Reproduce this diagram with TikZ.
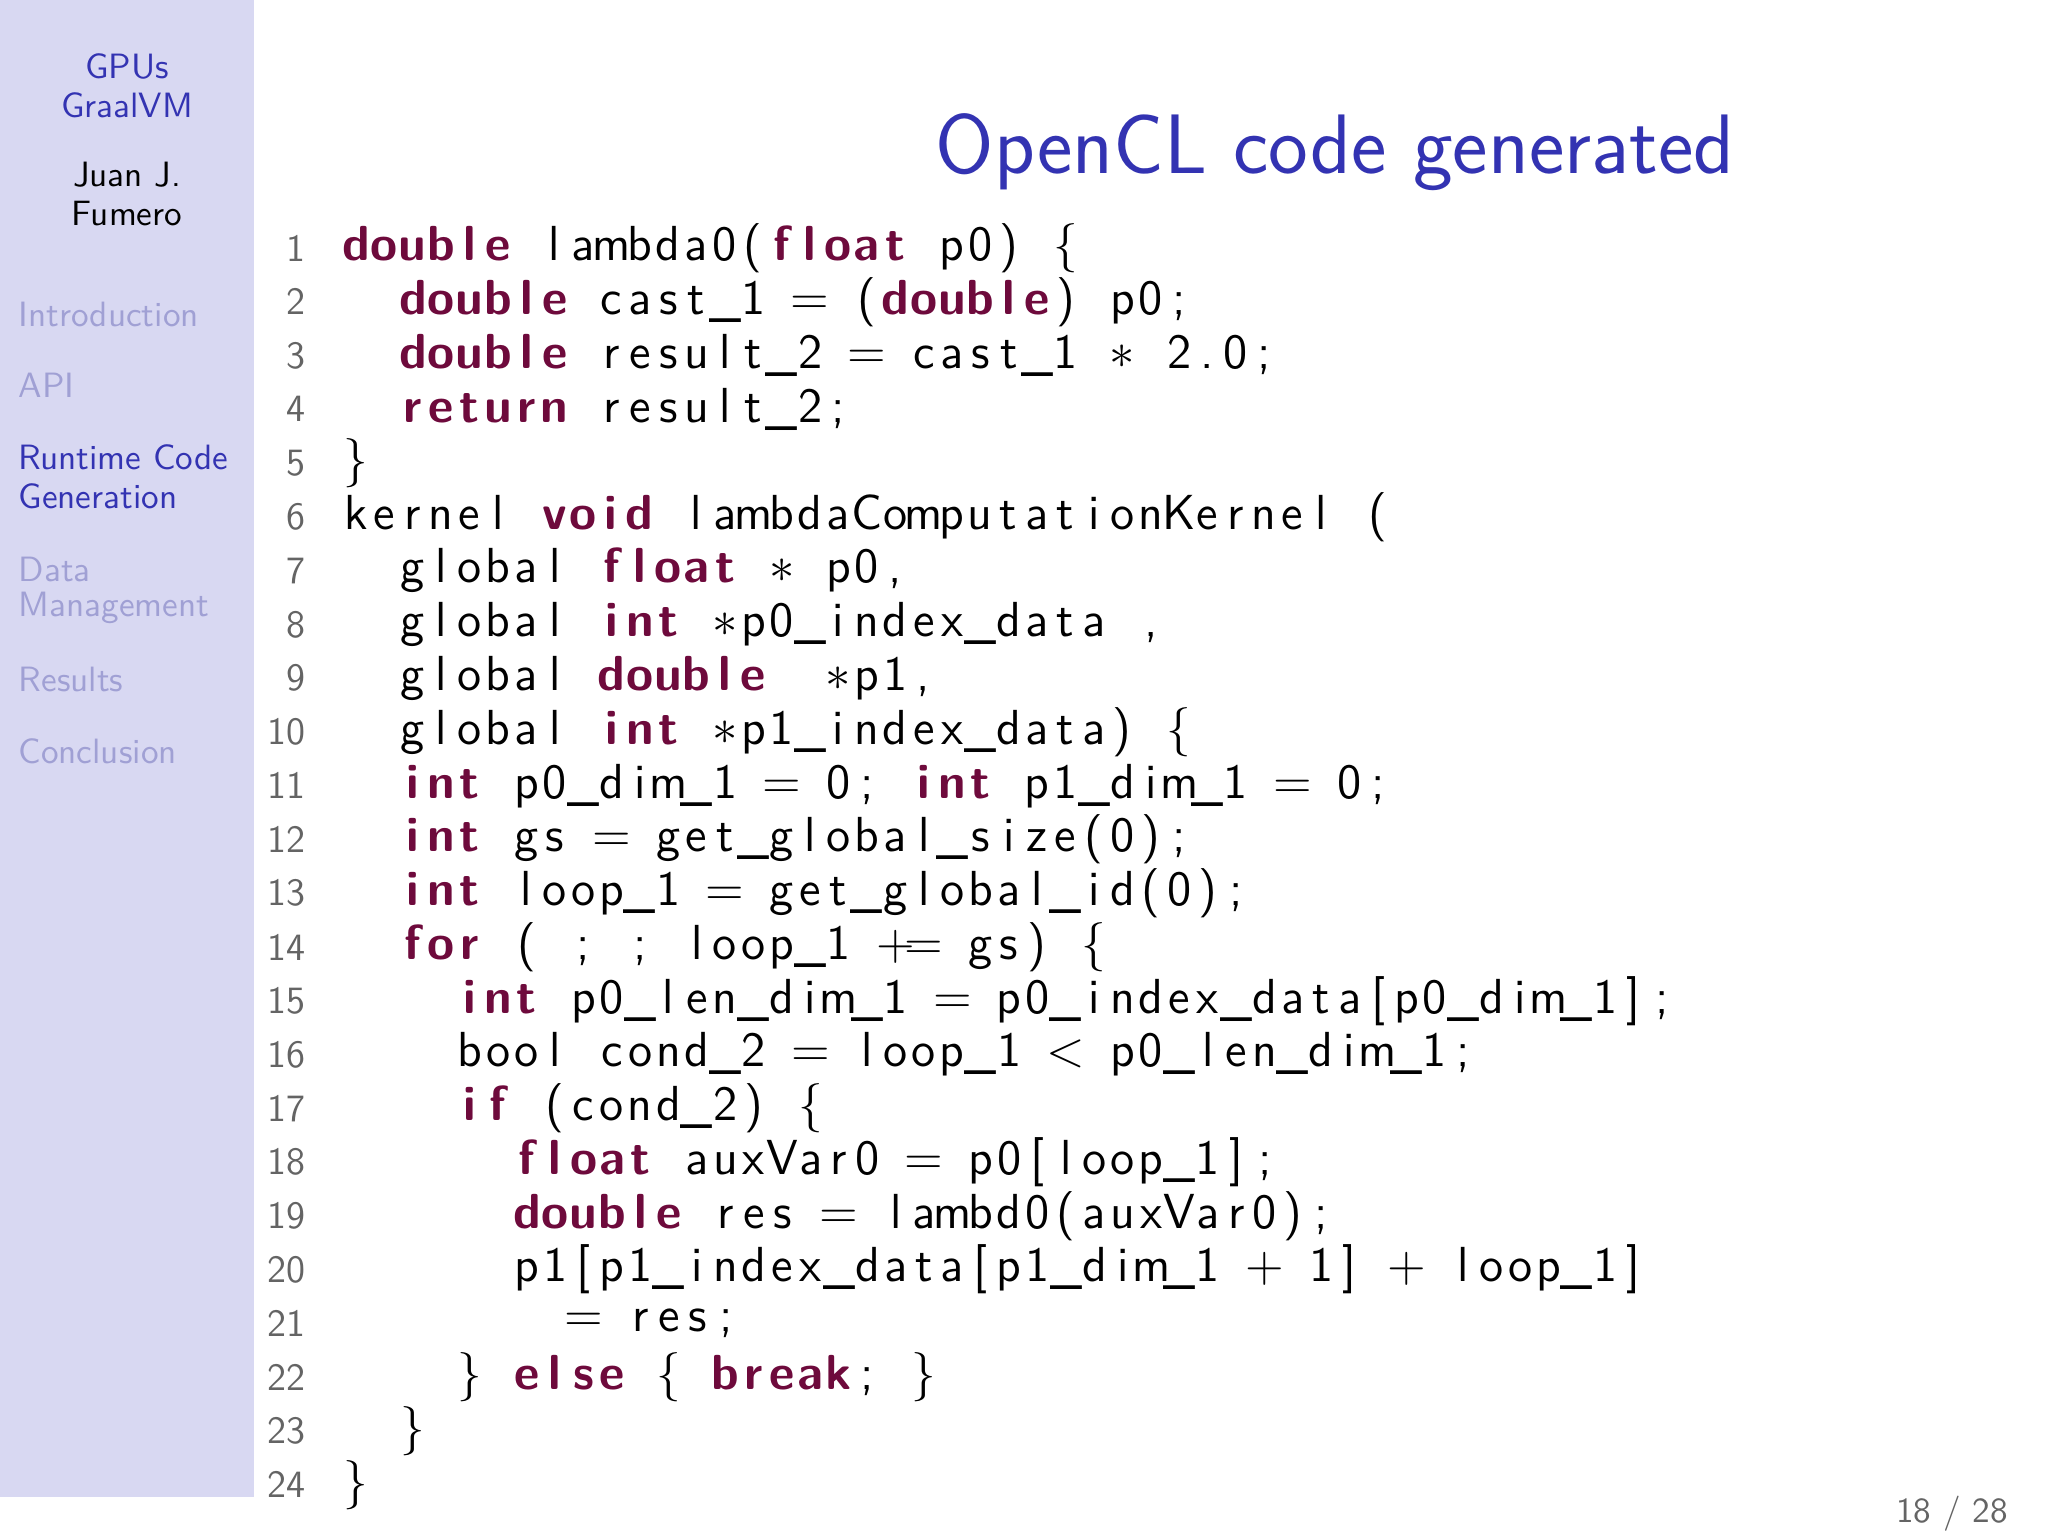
\documentclass[tikz,border=0pt]{standalone}
\usepackage{xcolor}
\definecolor{sbbg}{RGB}{216,216,242}
\definecolor{bblue}{RGB}{51,51,178}
\definecolor{navgray}{RGB}{160,160,212}
\definecolor{kwc}{RGB}{110,10,60}
\definecolor{lngray}{RGB}{100,100,100}
\newcommand\fxloop[1]{\ifx\relax#1\else\makebox[8.07pt]{#1}\expandafter\fxloop\fi}
\newcommand\fx[1]{\fxloop#1\relax}
\newcommand\kf[1]{{\bfseries\color{kwc}\fxloop#1\relax}}
\newcommand\E{{$=$}}
\newcommand\A{{$\ast$}}
\begin{document}
\begin{tikzpicture}[x=0.01cm,y=-0.01cm,
  sb/.style={font=\fontsize{10}{12}\sffamily},
  nav/.style={sb,anchor=west,text=navgray,inner sep=0},
  ln/.style={anchor=east,inner sep=0,text=lngray,font=\fontsize{11}{13}\sffamily},
  cl/.style={anchor=west,inner sep=0,font=\fontsize{14}{17}\sffamily}]
\useasboundingbox (0,0) rectangle (2048,1536);
\fill[white] (0,0) rectangle (2048,1536);
\fill[sbbg] (0,0) rectangle (254,1497);
\node[sb,text=bblue] (g1) at (127,66) {GPUs};
\node[sb,text=bblue] (g2) at (127,105) {GraalVM};
\node[sb] (a1) at (127,175) {Juan J.};
\node[sb] (a2) at (127,214) {Fumero};
\node[nav] (n1) at (18,314) {Introduction};
\node[nav] (n2) at (18,385) {API};
\node[nav,text=bblue] (n3) at (18,457) {Runtime Code};
\node[nav,text=bblue] (n4) at (18,496) {Generation};
\node[nav] (n5) at (18,569) {Data};
\node[nav] (n6) at (18,608) {Management};
\node[nav] (n7) at (18,679) {Results};
\node[nav] (n8) at (18,751) {Conclusion};
\node[text=bblue,font=\fontsize{24}{28}\sffamily] (title) at (1335,152) {OpenCL code generated};
\node[text=lngray,font=\fontsize{10}{12}\sffamily,anchor=east] (pg) at (2020,1514) {18 / 28};
\foreach \i in {1,...,24} {\node[ln] (l\i) at (306,{248+(\i-1)*53.77}) {\i};}
\def\Y#1{{248+(#1-1)*53.77}}
\node[cl] (c1) at (341,\Y1) {\kf{double}\fx{~lambda0(}\kf{float}\fx{~p0)~\{}};
\node[cl] (c2) at (398,\Y2) {\kf{double}\fx{~cast\_1~\E~(}\kf{double}\fx{)~p0;}};
\node[cl] (c3) at (398,\Y3) {\kf{double}\fx{~result\_2~\E~cast\_1~\A~2.0;}};
\node[cl] (c4) at (398,\Y4) {\kf{return}\fx{~result\_2;}};
\node[cl] (c5) at (341,\Y5) {\fx{\}}};
\node[cl] (c6) at (341,\Y6) {\fx{kernel~}\kf{void}\fx{~lambdaComputationKernel~(}};
\node[cl] (c7) at (398,\Y7) {\fx{global~}\kf{float}\fx{~\A~p0,}};
\node[cl] (c8) at (398,\Y8) {\fx{global~}\kf{int}\fx{~\A p0\_index\_data~,}};
\node[cl] (c9) at (398,\Y9) {\fx{global~}\kf{double}\fx{~~\A p1,}};
\node[cl] (c10) at (398,\Y{10}) {\fx{global~}\kf{int}\fx{~\A p1\_index\_data)~\{}};
\node[cl] (c11) at (398,\Y{11}) {\kf{int}\fx{~p0\_dim\_1~\E~0;~}\kf{int}\fx{~p1\_dim\_1~\E~0;}};
\node[cl] (c12) at (398,\Y{12}) {\kf{int}\fx{~gs~\E~get\_global\_size(0);}};
\node[cl] (c13) at (398,\Y{13}) {\kf{int}\fx{~loop\_1~\E~get\_global\_id(0);}};
\node[cl] (c14) at (398,\Y{14}) {\kf{for}\fx{~(~;~;~loop\_1~{$+$}\E~gs)~\{}};
\node[cl] (c15) at (455,\Y{15}) {\kf{int}\fx{~p0\_len\_dim\_1~\E~p0\_index\_data[p0\_dim\_1];}};
\node[cl] (c16) at (455,\Y{16}) {\fx{bool~cond\_2~\E~loop\_1~{$<$}~p0\_len\_dim\_1;}};
\node[cl] (c17) at (455,\Y{17}) {\kf{if}\fx{~(cond\_2)~\{}};
\node[cl] (c18) at (512,\Y{18}) {\kf{float}\fx{~auxVar0~\E~p0[loop\_1];}};
\node[cl] (c19) at (512,\Y{19}) {\kf{double}\fx{~res~\E~lambd0(auxVar0);}};
\node[cl] (c20) at (512,\Y{20}) {\fx{p1[p1\_index\_data[p1\_dim\_1~{$+$}~1]~{$+$}~loop\_1]}};
\node[cl] (c21) at (569,\Y{21}) {\fx{\E~res;}};
\node[cl] (c22) at (455,\Y{22}) {\fx{\}~}\kf{else}\fx{~\{~}\kf{break}\fx{;~\}}};
\node[cl] (c23) at (398,\Y{23}) {\fx{\}}};
\node[cl] (c24) at (341,\Y{24}) {\fx{\}}};
\end{tikzpicture}
\end{document}
